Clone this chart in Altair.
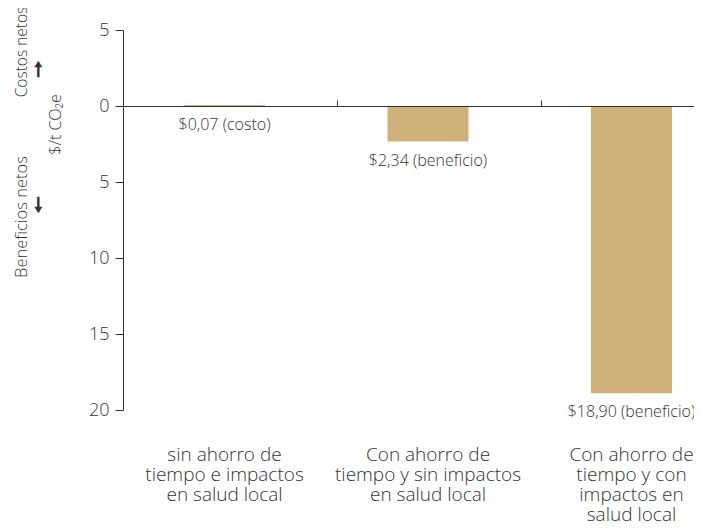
import altair as alt
import pandas as pd

categories = [
    "sin ahorro de|tiempo e impactos|en salud local",
    "Con ahorro de|tiempo y sin impactos|en salud local",
    "Con ahorro de|tiempo y con|impactos en|salud local",
]
values = [0.07, -2.34, -18.90]
value_labels = ["$0,07 (costo)", "$2,34 (beneficio)", "$18,90 (beneficio)"]
y_ticks = [-20, -15, -10, -5, 0, 5]

df = pd.DataFrame({"cat": categories, "val": values, "lab": value_labels})

FONT = "Open Sans"
TXT = "#333333"
BAR = "#D1B17A"
LIGHT = 300

xscale = alt.Scale(domain=categories, paddingInner=0.602, paddingOuter=0.204, align=0.735)
yscale = alt.Scale(domain=[-20, 5], nice=False, zero=False)

base = alt.Chart(df)

bars = base.mark_bar(color=BAR).encode(
    x=alt.X("cat:N", scale=xscale, sort=categories,
            axis=alt.Axis(orient="bottom", title=None, domain=False, ticks=False,
                          labelAngle=0, labelExpr="split(datum.label, '|')",
                          labelFont=FONT, labelFontSize=19, labelColor=TXT,
                          labelFontWeight=LIGHT,
                          labelLineHeight=20, labelPadding=35, labelLimit=300)),
    y=alt.Y("val:Q", scale=yscale,
            axis=alt.Axis(values=y_ticks, labelExpr="abs(datum.value)", grid=False,
                          domainColor=TXT, tickColor=TXT, tickSize=8, labelPadding=6,
                          labelFont=FONT, labelFontSize=18, labelColor=TXT,
                          labelFontWeight=LIGHT,
                          title="$/t CO₂e", titleFont=FONT, titleFontSize=16,
                          titleFontWeight=LIGHT, titleColor=TXT, titleAngle=270,
                          titleX=-68, titleY=94, titleAlign="center", titleBaseline="middle")),
)

texts = base.transform_calculate(ly="min(datum.val, 0)").mark_text(
    font=FONT, fontSize=16, fontWeight=LIGHT, color=TXT, baseline="middle", dy=19
).encode(
    x=alt.X("cat:N", scale=xscale, sort=categories,
            axis=alt.Axis(orient="top", offset=-76, title=None, labels=False,
                          values=categories[:2], bandPosition=1.9, tickSize=6,
                          tickColor=TXT, domainColor=TXT, domainWidth=1.2, zindex=1)),
    y=alt.Y("ly:Q", scale=yscale),
    text="lab:N",
)

def note(txt, x, y, angle=0, size=16, weight=LIGHT):
    return alt.Chart(alt.Data(values=[{}])).mark_text(
        text=txt, font=FONT, fontSize=size, color=TXT, angle=angle,
        align="center", baseline="middle", fontWeight=weight
    ).encode(x=alt.value(x), y=alt.value(y))

notes = [
    note("Costos netos", -101, 22, angle=270, size=15.5),
    note("Beneficios netos", -101, 187, angle=270, size=16.5),
    note("🠕", -85, 40, size=20, weight="bold"),
    note("🠗", -85, 176, size=20, weight="bold"),
]

chart = alt.layer(bars, texts, *notes).resolve_axis(x="independent").properties(
    width=571, height=380,
    autosize=alt.AutoSizeParams(type="none"),
    padding={"left": 115, "top": 22, "right": 0, "bottom": 112},
    background="white",
).configure_view(stroke=None)

chart.save("out.html", embed_options={"renderer": "svg", "actions": False})
